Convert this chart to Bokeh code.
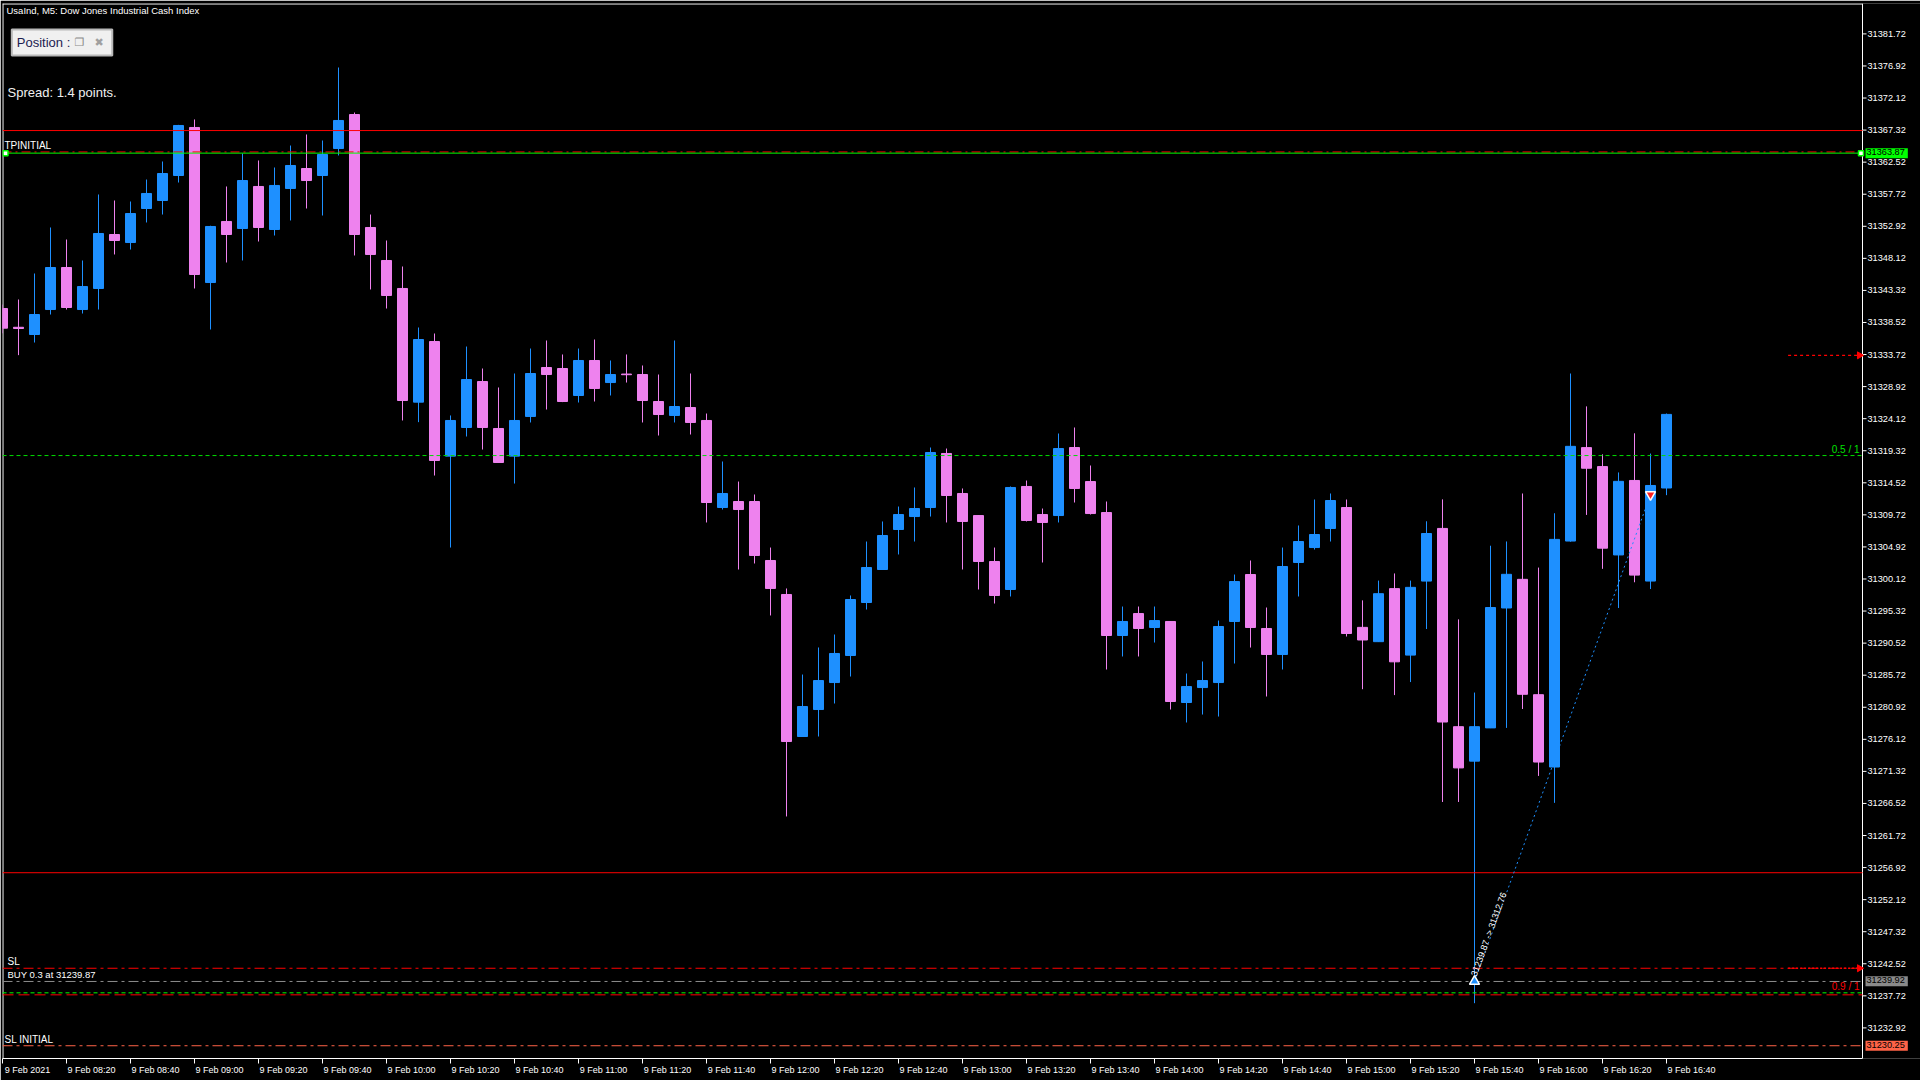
import math
from bokeh.plotting import figure
from bokeh.models import (ColumnDataSource, FixedTicker, PrintfTickFormatter, Label, Range1d,
                          CustomJSTickFormatter, LinearAxis)
from bokeh.core.properties import value
from bokeh.embed import file_html
from bokeh.resources import INLINE

# ---------------- data ----------------
TITLE = "UsaInd, M5:  Dow Jones Industrial Cash Index"
SPREAD_TEXT = "Spread: 1.4 points."

OPEN = [31340.61, 31337.80, 31336.72, 31340.46, 31346.75, 31340.46, 31343.61, 31351.69, 31350.49, 31355.58,
        31356.78, 31360.52, 31367.71, 31344.50, 31353.64, 31352.59, 31358.88, 31352.44, 31358.58, 31361.57,
        31360.52, 31364.56, 31369.65, 31352.74, 31347.80, 31343.61, 31326.59, 31335.67, 31318.51, 31322.80,
        31329.68, 31322.65, 31318.51, 31324.45, 31331.78, 31331.63, 31327.59, 31332.83, 31329.53, 31330.80,
        31330.73, 31326.69, 31324.60, 31325.79, 31323.85, 31310.82, 31311.72, 31311.72, 31302.89, 31297.80,
        31276.54, 31280.58, 31284.62, 31288.67, 31296.60, 31301.54, 31307.53, 31309.47, 31310.82, 31318.91,
        31312.92, 31309.62, 31302.74, 31298.55, 31313.97, 31309.77, 31309.62, 31319.80, 31314.71, 31310.07,
        31291.66, 31294.95, 31292.86, 31293.76, 31281.63, 31283.87, 31284.62, 31293.76, 31300.79, 31292.71,
        31288.82, 31302.59, 31304.83, 31307.68, 31310.82, 31292.88, 31290.74, 31298.68, 31288.73, 31299.81,
        31307.69, 31278.01, 31272.85, 31277.83, 31295.78, 31300.07, 31282.80, 31271.97, 31305.80, 31319.79,
        31316.95, 31303.72, 31314.87, 31299.81, 31313.74]
HIGH = [31341.20, 31341.96, 31345.85, 31352.74, 31350.94, 31347.80, 31357.68, 31356.78, 31356.63, 31359.92,
        31362.62, 31368.10, 31368.91, 31353.00, 31358.88, 31363.82, 31362.77, 31361.72, 31365.01, 31366.66,
        31365.76, 31376.69, 31369.95, 31354.68, 31350.79, 31346.90, 31337.77, 31336.87, 31324.60, 31334.92,
        31331.63, 31328.79, 31330.88, 31334.62, 31335.82, 31333.73, 31334.62, 31335.97, 31332.83, 31333.73,
        31332.08, 31330.73, 31335.82, 31330.88, 31324.89, 31317.71, 31314.71, 31312.77, 31304.83, 31298.70,
        31285.82, 31289.87, 31291.81, 31297.65, 31305.73, 31308.73, 31310.97, 31313.82, 31319.80, 31319.65,
        31313.67, 31309.70, 31304.83, 31313.97, 31314.86, 31310.67, 31321.90, 31322.80, 31317.11, 31311.72,
        31296.00, 31296.00, 31296.00, 31293.80, 31285.97, 31287.77, 31293.90, 31300.79, 31302.89, 31295.85,
        31304.83, 31308.13, 31312.02, 31312.92, 31312.02, 31296.92, 31299.88, 31300.95, 31299.88, 31308.76,
        31312.04, 31294.08, 31283.12, 31305.10, 31305.74, 31312.92, 31301.83, 31309.96, 31330.88, 31325.96,
        31318.78, 31316.07, 31321.93, 31318.90, 31324.89]
LOW = [31336.90, 31333.63, 31335.52, 31339.71, 31340.46, 31339.86, 31340.46, 31348.70, 31349.44, 31353.49,
       31354.68, 31359.47, 31343.61, 31337.47, 31347.50, 31347.80, 31350.64, 31351.54, 31353.79, 31355.58,
       31354.53, 31363.52, 31348.55, 31343.46, 31340.61, 31323.85, 31323.60, 31315.61, 31304.83, 31321.45,
       31319.50, 31317.50, 31314.41, 31323.55, 31325.49, 31326.60, 31326.54, 31326.69, 31327.59, 31329.53,
       31323.55, 31321.60, 31323.55, 31321.75, 31308.58, 31310.52, 31301.54, 31302.44, 31294.66, 31264.57,
       31276.50, 31276.54, 31281.48, 31285.52, 31295.55, 31301.50, 31303.79, 31305.73, 31309.47, 31308.58,
       31301.54, 31298.55, 31296.45, 31297.50, 31308.73, 31302.59, 31308.58, 31311.57, 31309.77, 31286.57,
       31288.52, 31288.52, 31290.61, 31280.58, 31278.64, 31279.83, 31279.53, 31287.47, 31289.86, 31282.53,
       31286.57, 31297.50, 31304.53, 31305.73, 31291.51, 31283.62, 31290.70, 31282.74, 31284.69, 31292.63,
       31266.74, 31266.74, 31236.62, 31277.80, 31277.83, 31280.66, 31270.64, 31266.61, 31305.70, 31309.71,
       31301.64, 31295.78, 31299.63, 31298.62, 31312.67]
CLOSE = [31337.67, 31337.62, 31339.71, 31346.75, 31340.76, 31343.90, 31351.84, 31350.79, 31354.83, 31357.83,
         31360.82, 31368.01, 31345.70, 31352.89, 31351.69, 31359.77, 31352.74, 31359.03, 31362.02, 31359.77,
         31363.67, 31368.76, 31351.69, 31348.70, 31342.56, 31326.84, 31335.97, 31317.86, 31323.85, 31329.98,
         31322.80, 31317.56, 31323.85, 31330.88, 31330.73, 31326.69, 31332.83, 31328.64, 31330.73, 31330.70,
         31326.84, 31324.74, 31325.94, 31323.55, 31311.57, 31312.92, 31310.52, 31303.64, 31298.70, 31275.79,
         31281.03, 31284.92, 31288.97, 31297.05, 31301.84, 31306.63, 31309.77, 31310.67, 31319.06, 31312.62,
         31308.73, 31302.74, 31297.65, 31313.82, 31308.88, 31308.58, 31319.65, 31313.67, 31309.92, 31291.66,
         31293.76, 31292.71, 31293.90, 31281.78, 31284.02, 31284.92, 31293.01, 31299.74, 31292.86, 31288.82,
         31301.99, 31305.73, 31306.78, 31311.87, 31291.96, 31290.99, 31297.92, 31287.72, 31298.87, 31306.93,
         31278.71, 31271.84, 31278.01, 31295.85, 31300.82, 31282.86, 31272.72, 31306.05, 31319.98, 31316.70,
         31304.73, 31314.74, 31300.70, 31314.12, 31324.76]

X_TICK_LABELS = ["9 Feb 2021", "9 Feb 08:20", "9 Feb 08:40", "9 Feb 09:00", "9 Feb 09:20", "9 Feb 09:40",
                 "9 Feb 10:00", "9 Feb 10:20", "9 Feb 10:40", "9 Feb 11:00", "9 Feb 11:20", "9 Feb 11:40",
                 "9 Feb 12:00", "9 Feb 12:20", "9 Feb 12:40", "9 Feb 13:00", "9 Feb 13:20", "9 Feb 13:40",
                 "9 Feb 14:00", "9 Feb 14:20", "9 Feb 14:40", "9 Feb 15:00", "9 Feb 15:20", "9 Feb 15:40",
                 "9 Feb 16:00", "9 Feb 16:20", "9 Feb 16:40"]
BARS_PER_TICK = 4

Y_TICKS = [31381.72, 31376.92, 31372.12, 31367.32, 31362.52, 31357.72, 31352.92, 31348.12, 31343.32,
           31338.52, 31333.72, 31328.92, 31324.12, 31319.32, 31314.52, 31309.72, 31304.92, 31300.12,
           31295.32, 31290.52, 31285.72, 31280.92, 31276.12, 31271.32, 31266.52, 31261.72, 31256.92,
           31252.12, 31247.32, 31242.52, 31237.72, 31232.92]

RED_UPPER = 31367.25
TP_PRICE = 31363.87
TP_INITIAL_PRICE = 31364.05
PENDING_PRICE = 31333.60
HALF_LEVEL = 31318.60
RED_LOWER = 31256.15
SL_PRICE = 31241.85
ENTRY_PRICE = 31239.87
BID_PRICE = 31239.92
NINE_LEVEL = 31238.17
NINE_RED = 31237.87
SL_INITIAL = 31230.25
EXIT_PRICE = 31312.76
ENTRY_BAR = 92
EXIT_BAR = 103
MARKER_START_BAR = 111.6

# ---------------- layout ----------------
BAR_PX = 16.0                       # pixels per bar
FW, FH = 1918, 1055                 # plot frame (chart + price-scale strip)
X0 = 0.0
X_END = 116.25                      # right border of the chart area
X1 = X0 + FW / BAR_PX
Y1 = 31386.27
Y0 = 31228.34
px_bar = FW / (X1 - X0)
px_pt = FH / (Y1 - Y0)

FONT = "Liberation Sans"
BULL, BEAR = "#1e90ff", "#ee82ee"
LIME = "#00ff00"
RED = "#ff0000"
TOMATO = "#ff6347"

p = figure(frame_width=FW, frame_height=FH, x_range=Range1d(X0, X1), y_range=Range1d(Y0, Y1),
           output_backend="svg", toolbar_location=None, y_axis_location="right", x_axis_location=None,
           min_border_left=2, min_border_top=3, min_border_right=0, min_border_bottom=22,
           background_fill_color="black", border_fill_color="black", outline_line_color=None)
p.xgrid.visible = False
p.ygrid.visible = False

# ---- x axis: tick marks (chart width) + left-aligned date labels ----
x_ticks = [BARS_PER_TICK * k for k in range(len(X_TICK_LABELS))]
tick_axis = LinearAxis(ticker=FixedTicker(ticks=x_ticks), bounds=(X0, X_END),
                       formatter=CustomJSTickFormatter(code="return ''"),
                       axis_line_color="white", major_tick_line_color="white", minor_tick_line_color=None,
                       major_tick_in=0, major_tick_out=5, major_label_text_font_size="0px",
                       major_label_standoff=0)
LABEL_SHIFT = 25.0 / BAR_PX
label_axis = LinearAxis(ticker=FixedTicker(ticks=[t + LABEL_SHIFT for t in x_ticks]),
                        formatter=CustomJSTickFormatter(
                            args=dict(labels=X_TICK_LABELS, shift=LABEL_SHIFT, step=BARS_PER_TICK),
                            code="const i = Math.round((tick - shift) / step);"
                                 "return (i >= 0 && i < labels.length) ? labels[i] : '';"),
                        axis_line_color=None, major_tick_line_color=None, minor_tick_line_color=None,
                        major_tick_in=0, major_tick_out=0, major_label_standoff=1,
                        major_label_text_color="white", major_label_text_font=FONT,
                        major_label_text_font_size="9px")
p.add_layout(tick_axis, "below")
p.add_layout(label_axis, "below")

# ---- y axis: labels pulled into the price-scale strip ----
yax = p.yaxis[0]
yax.ticker = FixedTicker(ticks=Y_TICKS)
yax.formatter = PrintfTickFormatter(format="%.2f")
yax.axis_line_color = None
yax.major_tick_line_color = None
yax.minor_tick_line_color = None
yax.major_tick_in = 0
yax.major_tick_out = 0
yax.major_label_text_color = "white"
yax.major_label_text_font = FONT
yax.major_label_text_font_size = "9.2px"
yax.major_label_standoff = -int(round((X1 - X_END) * px_bar)) + 5

# chart border + price ticks
tick_len = 4.0 / px_bar
p.segment(x0=[X_END] * len(Y_TICKS), x1=[X_END + tick_len] * len(Y_TICKS), y0=Y_TICKS, y1=Y_TICKS,
          line_color="white", line_width=1)
half_x, half_y = 0.5 / px_bar, 0.5 / px_pt
p.segment(x0=[X0 + half_x, X0, X_END], x1=[X0 + half_x, X_END, X_END],
          y0=[Y0, Y1 - half_y, Y0], y1=[Y1, Y1 - half_y, Y1], line_color="white", line_width=1)

# ---- candles ----
idx = list(range(len(OPEN)))
colors = [BULL if c > o else BEAR for o, c in zip(OPEN, CLOSE)]
src = ColumnDataSource(dict(x=idx, high=HIGH, low=LOW,
                            top=[max(o, c) for o, c in zip(OPEN, CLOSE)],
                            bottom=[min(o, c) for o, c in zip(OPEN, CLOSE)],
                            color=colors))
p.segment(x0="x", y0="low", x1="x", y1="high", line_color="color", line_width=1, source=src)
p.vbar(x="x", width=0.625, top="top", bottom="bottom", fill_color="color", line_color="color",
       line_width=1, source=src)

# ---- horizontal levels (chart width only) ----
def hline(loc, color, dash="solid", width=1.0, x_start=X0):
    p.segment(x0=[x_start], x1=[X_END], y0=[loc], y1=[loc], line_color=color, line_dash=dash,
              line_width=width)

hline(RED_UPPER, RED)
hline(TP_INITIAL_PRICE, RED, "9 4 2 4")
hline(TP_PRICE, LIME)
hline(HALF_LEVEL, "#00dd00", "4 3")
hline(RED_LOWER, RED)
hline(SL_PRICE, RED, "10 4 3 4")
hline(ENTRY_PRICE, "#8c8c8c", "10 4 3 4")
hline(NINE_RED, RED, "11 5")
hline(NINE_LEVEL, LIME, "4 3")
hline(SL_INITIAL, TOMATO, "10 4 3 4")
hline(PENDING_PRICE, RED, "3 3", 1.3, MARKER_START_BAR)
hline(SL_PRICE, RED, "2 2", 1.6, MARKER_START_BAR)

arrow_x = X_END - 3.0 / px_bar
p.scatter(x=[arrow_x, arrow_x], y=[PENDING_PRICE, SL_PRICE], marker="triangle", angle=-math.pi / 2,
          size=7, fill_color=RED, line_color=RED)
p.scatter(x=[X0 + 3.0 / px_bar, X_END - 1.5 / px_bar], y=[TP_PRICE, TP_PRICE], marker="square", size=5,
          fill_color="white", line_color=LIME, line_width=1.5)

# ---- trade line & markers ----
p.line(x=[ENTRY_BAR, EXIT_BAR], y=[ENTRY_PRICE, EXIT_PRICE], line_color=BULL, line_dash="2 3",
       line_width=1)
p.scatter(x=[ENTRY_BAR], y=[ENTRY_PRICE], marker="triangle", size=10, fill_color=BULL,
          line_color="white", line_width=1.5)
p.scatter(x=[EXIT_BAR], y=[EXIT_PRICE], marker="inverted_triangle", size=10, fill_color="#ff2020",
          line_color="white", line_width=1.5)
ang = math.atan2((EXIT_PRICE - ENTRY_PRICE) * px_pt, (EXIT_BAR - ENTRY_BAR) * px_bar)
p.text(x=[ENTRY_BAR], y=[ENTRY_PRICE], text=[f"{ENTRY_PRICE:.2f} -> {EXIT_PRICE:.2f}"], angle=ang,
       text_color="white", text_font=value(FONT), text_font_size="9px", text_baseline="bottom",
       x_offset=4, y_offset=-4)

# ---- line captions ----
def cap_left(text, price, x, size="10px"):
    p.add_layout(Label(x=x, y=price, x_units="screen", y_units="data", text=text, text_color="white",
                       text_font=FONT, text_font_size=size, text_align="left",
                       text_baseline="bottom", y_offset=1))

def cap_right(text, price, color):
    p.add_layout(Label(x=X_END, y=price, text=text, text_color=color, text_font=FONT,
                       text_font_size="10px", text_align="right", text_baseline="bottom",
                       x_offset=-3, y_offset=1))

cap_left("TPINITIAL", TP_INITIAL_PRICE, 2)
cap_left("SL", SL_PRICE, 5)
cap_left(f"BUY 0.3 at {ENTRY_PRICE:.2f}", ENTRY_PRICE, 5, "9.5px")
cap_left("SL INITIAL", SL_INITIAL, 2)
cap_right("0.5 / 1", HALF_LEVEL, "#00e000")
cap_right("0.9 / 1", NINE_LEVEL, RED)

# ---- price tags on the scale ----
def tag(price, bg):
    p.add_layout(Label(x=X_END, y=price, text=f"{price:.2f}", text_color="black", text_font=FONT,
                       text_font_size="9.2px", text_baseline="middle", background_fill_color=bg,
                       x_offset=3, padding=(1, 3, 1, 3)))

tag(TP_PRICE, LIME)
tag(BID_PRICE, "#8a8a8a")
tag(SL_INITIAL, TOMATO)

# ---- title, spread, position panel ----
p.add_layout(Label(x=4, y=FH - 1, x_units="screen", y_units="screen", text=TITLE, text_color="white",
                   text_font=FONT, text_font_size="9.5px", text_baseline="top"))
p.add_layout(Label(x=5, y=FH - 88.5, x_units="screen", y_units="screen", text=SPREAD_TEXT,
                   text_color="#f0f0f0", text_font=FONT, text_font_size="13px", text_baseline="middle"))
p.add_layout(Label(x=9.3, y=FH - 39, x_units="screen", y_units="screen", text="Position :",
                   text_color="#1c1c50", text_font=FONT, text_font_size="13px", text_baseline="middle",
                   background_fill_color="#f0f0f0", border_line_color="#b8b8b8", border_line_width=2,
                   padding=(5, 42, 5, 6)))
p.add_layout(Label(x=72, y=FH - 39, x_units="screen", y_units="screen", text="❐", text_color="#8a8a8a",
                   text_font="DejaVu Sans", text_font_size="11px", text_baseline="middle"))
p.add_layout(Label(x=92, y=FH - 39, x_units="screen", y_units="screen", text="✖", text_color="#a0a0a0",
                   text_font="DejaVu Sans", text_font_size="11px", text_baseline="middle"))

open("out.html", "w").write(file_html(p, INLINE))
